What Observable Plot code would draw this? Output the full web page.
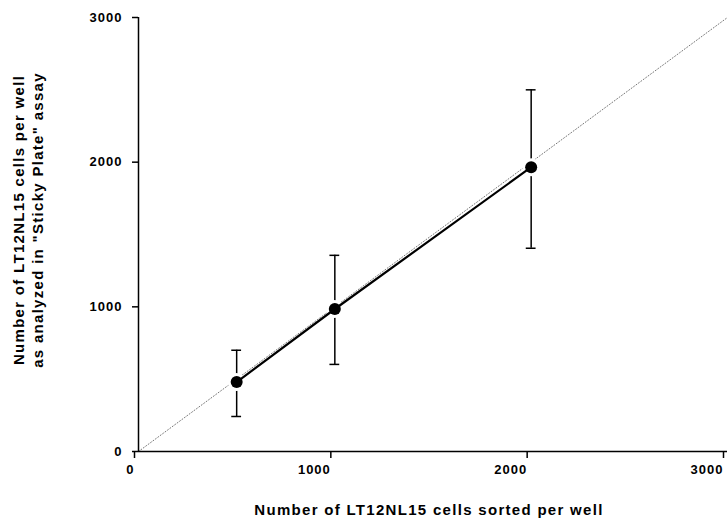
<!DOCTYPE html>
<html>
<head>
<meta charset="utf-8">
<script src="https://cdn.jsdelivr.net/npm/d3@7"></script>
<script src="https://cdn.jsdelivr.net/npm/@observablehq/plot@0.6"></script>
<style>
  html, body { margin: 0; padding: 0; background: #fff; }
  svg text { font-family: "Liberation Sans", Arial, sans-serif; font-weight: bold; fill: #000; }
  .ticklbl text { letter-spacing: 1px; }
  .title { letter-spacing: 1.3px; font-size: 15px; }
</style>
</head>
<body>
<div id="chart"></div>
<script>
// Data
const cellsSorted = [500, 1000, 2000];
const cellsMeasured = [480, 985, 1965];
const errLow = [242, 602, 1405];
const errHigh = [700, 1356, 2500];
const xTicks = [0, 1000, 2000, 3000];
const yTicks = [0, 1000, 2000, 3000];
const identityEnds = [0, 3000];
const xTitle = "Number of LT12NL15 cells sorted per well";
const yTitleLines = ["Number of LT12NL15 cells per well", "as analyzed in \"Sticky Plate\" assay"];

const data = cellsSorted.map((x, i) => ({x, y: cellsMeasured[i], lo: errLow[i], hi: errHigh[i]}));
const identity = identityEnds.map(v => ({x: v, y: v}));
const capHalf = 25; // half-width of error bar caps, in x units
const fmt = d3.format("d");

const svg = Plot.plot({
  width: 727,
  height: 522,
  marginLeft: 138,
  marginRight: 0,
  marginTop: 17,
  marginBottom: 71,
  style: {background: "#fff", fontFamily: "Liberation Sans, Arial, sans-serif"},
  x: {domain: [0, 3000]},
  y: {domain: [0, 3000]},
  marks: [
    Plot.line(identity, {x: "x", y: "y", stroke: "#777", strokeWidth: 1, strokeDasharray: "1,2"}),
    Plot.ruleX(data, {x: "x", y1: "lo", y2: "hi", stroke: "#000", strokeWidth: 1.5}),
    Plot.ruleY(data, {y: "hi", x1: d => d.x - capHalf, x2: d => d.x + capHalf, stroke: "#000", strokeWidth: 1.5}),
    Plot.ruleY(data, {y: "lo", x1: d => d.x - capHalf, x2: d => d.x + capHalf, stroke: "#000", strokeWidth: 1.5}),
    Plot.dot(data, {x: "x", y: "y", r: 9, fill: "#fff", stroke: null}),
    Plot.line(data, {x: "x", y: "y", stroke: "#000", strokeWidth: 2.2}),
    Plot.dot(data, {x: "x", y: "y", r: 6, fill: "#000", stroke: null}),
    Plot.ruleX([0], {y1: 0, y2: 3000, stroke: "#000", strokeWidth: 1.5}),
    Plot.ruleY([0], {stroke: "#000", strokeWidth: 1.5}),
    Plot.axisX(xTicks, {tickSize: 7, tickPadding: 6, textAnchor: "end", dx: -4, fontSize: 13, strokeWidth: 1.5, className: "ticklbl", tickFormat: fmt, label: null}),
    Plot.axisY(yTicks, {tickSize: 6, tickPadding: 10, fontSize: 13, strokeWidth: 1.5, className: "ticklbl", tickFormat: fmt, label: null})
  ]
});

const s = d3.select(svg);
s.append("text")
  .attr("class", "title")
  .attr("x", 429)
  .attr("y", 515)
  .attr("text-anchor", "middle")
  .text(xTitle);

const yt = s.append("g").attr("transform", "translate(0,220) rotate(-90)");
yTitleLines.forEach((t, i) => {
  yt.append("text")
    .attr("class", "title")
    .attr("x", 0)
    .attr("y", 24 + i * 19)
    .attr("text-anchor", "middle")
    .text(t);
});

document.getElementById("chart").appendChild(svg);
</script>
</body>
</html>
